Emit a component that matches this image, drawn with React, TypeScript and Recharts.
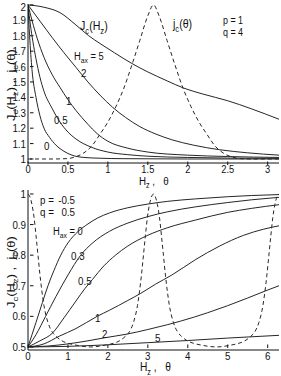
import React from "react";
import { LineChart, Line, XAxis, YAxis } from "recharts";

const FONT = "'Liberation Sans', Arial, Helvetica, sans-serif";
const SX = 0.85;
const INK = "#111";
const LINE = "#262626";

type P = [number, number][];

// ---------- top panel (p = 1, q = 4) ----------
const topXTicks = [0, 0.5, 1, 1.5, 2, 2.5, 3];
const topXTickLabels = ["0", "0.5", "1", "1.5", "2", "2.5", "3"];
const topYTicks = [1, 1.1, 1.2, 1.3, 1.4, 1.5, 1.6, 1.7, 1.8, 1.9, 2];
const topYTickLabels = ["1", "1.1", "1.2", "1.3", "1.4", "1.5", "1.6", "1.7", "1.8", "1.9", "2"];

const topHax0: P = [[0, 2], [0.02, 1.8], [0.05, 1.58], [0.1, 1.4], [0.15, 1.28], [0.2, 1.2], [0.27, 1.14], [0.35, 1.09], [0.45, 1.05], [0.55, 1.025], [0.7, 1.01], [0.9, 1.005], [1.2, 1.002], [2, 1.0], [3.1416, 1.0]];
const topHax05: P = [[0, 2], [0.03, 1.87], [0.062, 1.76], [0.1, 1.65], [0.15, 1.53], [0.2, 1.44], [0.3, 1.33], [0.4, 1.24], [0.5, 1.175], [0.6, 1.13], [0.8, 1.075], [1, 1.045], [1.25, 1.028], [1.5, 1.018], [2, 1.01], [2.5, 1.006], [3.1416, 1.004]];
const topHax1: P = [[0, 2], [0.05, 1.9], [0.117, 1.78], [0.2, 1.66], [0.3, 1.55], [0.4, 1.465], [0.5, 1.385], [0.6, 1.315], [0.75, 1.225], [0.864, 1.165], [1, 1.115], [1.25, 1.07], [1.5, 1.045], [2, 1.025], [2.5, 1.016], [3.1416, 1.01]];
const topHax2: P = [[0, 2], [0.15, 1.895], [0.3, 1.79], [0.45, 1.69], [0.6, 1.595], [0.75, 1.5], [0.9, 1.415], [1.06, 1.335], [1.22, 1.27], [1.4, 1.21], [1.6, 1.162], [1.8, 1.125], [2.07, 1.09], [2.4, 1.06], [2.75, 1.04], [3.1416, 1.025]];
const topHax5: P = [[0, 2], [0.2, 1.985], [0.4, 1.95], [0.6, 1.87], [0.76, 1.8], [0.9, 1.75], [1.08, 1.69], [1.3, 1.62], [1.5, 1.565], [1.75, 1.505], [1.95, 1.46], [2.2, 1.42], [2.5, 1.378], [2.8, 1.325], [3.1416, 1.258]];
const topJTheta: P = [[0, 1], [0.3, 1], [0.5, 1.003], [0.6, 1.015], [0.7, 1.04], [0.8, 1.085], [0.9, 1.16], [1.0, 1.24], [1.1, 1.34], [1.2, 1.46], [1.3, 1.61], [1.4, 1.77], [1.5, 1.93], [1.571, 2], [1.64, 1.93], [1.74, 1.77], [1.84, 1.61], [1.94, 1.46], [2.04, 1.34], [2.14, 1.24], [2.24, 1.16], [2.34, 1.085], [2.44, 1.04], [2.54, 1.015], [2.64, 1.003], [2.8, 1], [3.1416, 1]];

// ---------- bottom panel (p = -0.5, q = 0.5) ----------
const botXTicks = [0, 1, 2, 3, 4, 5, 6];
const botXTickLabels = ["0", "1", "2", "3", "4", "5", "6"];
const botYTicks = [0.5, 0.6, 0.7, 0.8, 0.9, 1];
const botYTickLabels = ["0.5", "0.6", "0.7", "0.8", "0.9", "1"];

const botHax0: P = [[0, 0.5], [0.1, 0.54], [0.2, 0.58], [0.36, 0.645], [0.5, 0.7], [0.65, 0.75], [0.82, 0.8], [1, 0.84], [1.25, 0.877], [1.5, 0.902], [1.75, 0.922], [2.04, 0.938], [2.5, 0.955], [3, 0.967], [3.5, 0.976], [4.2, 0.984], [5, 0.991], [5.6, 0.995], [6.2832, 0.998]];
const botHax03: P = [[0, 0.5], [0.2, 0.54], [0.44, 0.6], [0.7, 0.665], [1, 0.735], [1.32, 0.8], [1.6, 0.838], [2.04, 0.878], [2.5, 0.905], [3, 0.926], [3.5, 0.942], [4.2, 0.958], [5, 0.972], [5.6, 0.981], [6.2832, 0.989]];
const botHax05: P = [[0, 0.5], [0.3, 0.52], [0.61, 0.545], [0.9, 0.595], [1.2, 0.65], [1.42, 0.69], [1.61, 0.72], [1.9, 0.765], [2.19, 0.8], [2.5, 0.83], [3, 0.865], [3.5, 0.89], [4.2, 0.915], [5, 0.94], [5.6, 0.953], [6.2832, 0.965]];
const botHax1: P = [[0, 0.5], [0.4, 0.51], [0.78, 0.535], [1.2, 0.56], [1.73, 0.6], [2.04, 0.62], [2.5, 0.652], [2.82, 0.675], [3.19, 0.705], [3.6, 0.735], [4.2, 0.786], [4.8, 0.83], [5.4, 0.865], [5.9, 0.885], [6.2832, 0.896]];
const botHax2: P = [[0, 0.5], [0.5, 0.503], [1, 0.51], [1.5, 0.52], [1.92, 0.53], [2.48, 0.542], [3, 0.557], [3.5, 0.573], [4.17, 0.598], [4.5, 0.612], [5, 0.635], [5.5, 0.66], [5.96, 0.684], [6.2832, 0.7]];
const botHax5: P = [[0, 0.5], [1, 0.502], [2, 0.507], [3, 0.514], [4, 0.521], [5, 0.529], [6.2832, 0.538]];
const botJTheta: P = [[0, 1], [0.05, 0.99], [0.1, 0.965], [0.15, 0.925], [0.2, 0.865], [0.25, 0.8], [0.3, 0.735], [0.35, 0.68], [0.4, 0.635], [0.5, 0.58], [0.6, 0.55], [0.7, 0.535], [0.85, 0.52], [1.0, 0.512], [1.2, 0.506], [1.571, 0.5], [1.94, 0.506], [2.14, 0.512], [2.29, 0.52], [2.44, 0.535], [2.54, 0.55], [2.64, 0.58], [2.74, 0.635], [2.79, 0.68], [2.84, 0.735], [2.89, 0.8], [2.94, 0.865], [2.99, 0.925], [3.04, 0.965], [3.09, 0.99], [3.1416, 1], [3.19, 0.99], [3.24, 0.965], [3.29, 0.925], [3.34, 0.865], [3.39, 0.8], [3.44, 0.735], [3.49, 0.68], [3.54, 0.635], [3.64, 0.58], [3.74, 0.55], [3.84, 0.535], [3.99, 0.52], [4.14, 0.512], [4.34, 0.506], [4.712, 0.5], [5.08, 0.506], [5.28, 0.512], [5.43, 0.52], [5.58, 0.535], [5.68, 0.55], [5.78, 0.58], [5.88, 0.635], [5.93, 0.68], [5.98, 0.735], [6.03, 0.8], [6.08, 0.865], [6.13, 0.925], [6.18, 0.965], [6.23, 0.99], [6.2832, 1]];

const toXY = (a: P) => a.map(([x, y]) => ({ x, y }));

// ---------- ticks ----------
const TL = 3.5;
const tickText = (x: number, y: number, anchor: string, s: string, fs: number) => (
  <text transform={`translate(${x},${y}) scale(${SX},1)`} textAnchor={anchor as any} fontSize={fs} fontFamily={FONT} fill={INK}>{s}</text>
);
const leftTick = (M: number, ticks: number[], labels: string[]) => (props: any) => {
  const { x, y, payload } = props;
  const ax = x + M;
  const i = ticks.indexOf(payload.value);
  return (
    <g>
      <line x1={ax} y1={y} x2={ax + TL} y2={y} stroke={INK} strokeWidth={1} />
      {tickText(x, Math.max(y + 4.1, 10.6), "end", labels[i] ?? "", 11.5)}
    </g>
  );
};
const bottomTick = (M: number, ticks: number[], labels: string[], fs: number, off: number) => (props: any) => {
  const { x, y, payload } = props;
  const ay = y - M;
  const i = ticks.indexOf(payload.value);
  return (
    <g>
      <line x1={x} y1={ay} x2={x} y2={ay - TL} stroke={INK} strokeWidth={1} />
      {tickText(x, y + off, "middle", labels[i] ?? "", fs)}
    </g>
  );
};
const topTick = (props: any) => {
  const { x, y } = props;
  return <line x1={x} y1={y} x2={x} y2={y + TL} stroke={INK} strokeWidth={1} />;
};
const rightTick = (props: any) => {
  const { x, y } = props;
  return <line x1={x} y1={y} x2={x - TL} y2={y} stroke={INK} strokeWidth={1} />;
};

// ---------- text ----------
type Part = [string, boolean];
function Rich({ parts, size, anchor = "start" }: { parts: Part[]; size: number; anchor?: string }) {
  const d = size * 0.3;
  return (
    <text fontFamily={FONT} fontSize={size} fill={INK} textAnchor={anchor as any} style={{ whiteSpace: "pre" }}>
      {parts.map(([t, sub], i) => {
        const prevSub = i > 0 && parts[i - 1][1];
        const dy = sub && !prevSub ? d : !sub && prevSub ? -d : 0;
        return (
          <tspan key={i} dy={dy} fontSize={sub ? size * 0.72 : size}>{t}</tspan>
        );
      })}
    </text>
  );
}
function Lbl({ x, y, parts, size = 11.5, anchor = "start" }: { x: number; y: number; parts: Part[]; size?: number; anchor?: string }) {
  return (
    <g transform={`translate(${x},${y}) scale(${SX},1)`}>
      <Rich parts={parts} size={size} anchor={anchor} />
    </g>
  );
}
function VLbl({ x, y, parts, size = 13 }: { x: number; y: number; parts: Part[]; size?: number }) {
  return (
    <g transform={`translate(${x},${y}) scale(${SX},1) rotate(-90)`}>
      <Rich parts={parts} size={size} anchor="middle" />
    </g>
  );
}

const yLabelParts: Part[] = [["J", false], ["c", true], ["(H", false], ["z", true], [") ,  j", false], ["c", true], ["(θ)", false]];
const xLabelParts: Part[] = [["H", false], ["z", true], [" ,   θ", false]];

const solid = (key: string, data: P) => (
  <Line key={key} data={toXY(data)} dataKey="y" type="monotone" stroke={LINE} strokeWidth={1} dot={false} activeDot={false} isAnimationActive={false} />
);
const dashed = (key: string, data: P) => (
  <Line key={key} data={toXY(data)} dataKey="y" type="monotone" stroke={LINE} strokeWidth={1} strokeDasharray="4 3" dot={false} activeDot={false} isAnimationActive={false} />
);

export default function App() {
  return (
    <div style={{ position: "absolute", left: 0, top: 0, width: 281, height: 376, background: "#fff", overflow: "hidden" }}>
      <div style={{ position: "absolute", left: 0, top: 0 }}>
        <LineChart width={281} height={185} margin={{ top: 4, right: 2, bottom: 2, left: 0 }}>
          <XAxis dataKey="x" type="number" domain={[0, Math.PI]} allowDataOverflow ticks={topXTicks} interval={0} height={20} tickSize={0} tickLine={false} axisLine={{ stroke: INK }} tick={bottomTick(0, topXTicks, topXTickLabels, 11, 7.8)} />
          <XAxis xAxisId="t" orientation="top" dataKey="x" type="number" domain={[0, Math.PI]} allowDataOverflow ticks={topXTicks} interval={0} height={0} tickSize={0} tickLine={false} axisLine={{ stroke: INK }} tick={topTick} />
          <YAxis type="number" domain={[0.974, 2.006]} allowDataOverflow ticks={topYTicks} interval={0} width={28} tickSize={0} tickLine={false} axisLine={{ stroke: INK }} tick={leftTick(4, topYTicks, topYTickLabels)} />
          <YAxis yAxisId="r" orientation="right" type="number" domain={[0.974, 2.006]} allowDataOverflow ticks={topYTicks} interval={0} width={0} tickSize={0} tickLine={false} axisLine={{ stroke: INK }} tick={rightTick} />
          {solid("h0", topHax0)}
          {solid("h05", topHax05)}
          {solid("h1", topHax1)}
          {solid("h2", topHax2)}
          {solid("h5", topHax5)}
          {dashed("jt", topJTheta)}
        </LineChart>
      </div>
      <div style={{ position: "absolute", left: 0, top: 185 }}>
        <LineChart width={281} height={191} margin={{ top: 5, right: 2, bottom: 6, left: 0 }}>
          <XAxis dataKey="x" type="number" domain={[0, 2 * Math.PI]} allowDataOverflow ticks={botXTicks} interval={0} height={20} tickSize={0} tickLine={false} axisLine={{ stroke: INK }} tick={bottomTick(4, botXTicks, botXTickLabels, 11.5, 8.2)} />
          <XAxis xAxisId="t" orientation="top" dataKey="x" type="number" domain={[0, 2 * Math.PI]} allowDataOverflow ticks={botXTicks} interval={0} height={0} tickSize={0} tickLine={false} axisLine={{ stroke: INK }} tick={topTick} />
          <YAxis type="number" domain={[0.49, 1.013]} allowDataOverflow ticks={botYTicks} interval={0} width={28} tickSize={0} tickLine={false} axisLine={{ stroke: INK }} tick={leftTick(4, botYTicks, botYTickLabels)} />
          <YAxis yAxisId="r" orientation="right" type="number" domain={[0.49, 1.013]} allowDataOverflow ticks={botYTicks} interval={0} width={0} tickSize={0} tickLine={false} axisLine={{ stroke: "#8a8a8a", strokeWidth: 3 }} tick={rightTick} />
          {solid("b0", botHax0)}
          {solid("b03", botHax03)}
          {solid("b05", botHax05)}
          {solid("b1", botHax1)}
          {solid("b2", botHax2)}
          {solid("b5", botHax5)}
          {dashed("bjt", botJTheta)}
        </LineChart>
      </div>
      <svg width={281} height={376} style={{ position: "absolute", left: 0, top: 0, pointerEvents: "none" }}>
        {/* top panel annotations */}
        <Lbl x={80} y={30} size={12.5} parts={[["J", false], ["c", true], ["(H", false], ["z", true], [")", false]]} />
        <Lbl x={173} y={28} size={12.5} parts={[["j", false], ["c", true], ["(θ)", false]]} />
        <Lbl x={223} y={24} size={10.5} parts={[["p = 1", false]]} />
        <Lbl x={223} y={36} size={10.5} parts={[["q = 4", false]]} />
        <Lbl x={74} y={60} size={11} parts={[["H", false], ["ax", true], [" = 5", false]]} />
        <Lbl x={81} y={77} parts={[["2", false]]} />
        <Lbl x={66} y={105} parts={[["1", false]]} />
        <Lbl x={54} y={124} parts={[["0.5", false]]} />
        <Lbl x={44} y={150} parts={[["0", false]]} />
        <Lbl x={139} y={184.5} size={11.5} parts={xLabelParts} />
        <VLbl x={15} y={85} parts={yLabelParts} />
        {/* bottom panel annotations */}
        <Lbl x={40} y={204} parts={[["p =", false]]} />
        <Lbl x={75} y={204} anchor="end" parts={[["-0.5", false]]} />
        <Lbl x={40} y={216} parts={[["q =", false]]} />
        <Lbl x={75} y={216} anchor="end" parts={[["0.5", false]]} />
        <Lbl x={53} y={235} size={11} parts={[["H", false], ["ax", true], [" = 0", false]]} />
        <Lbl x={71} y={260} parts={[["0.3", false]]} />
        <Lbl x={78} y={285} parts={[["0.5", false]]} />
        <Lbl x={95} y={322} parts={[["1", false]]} />
        <Lbl x={102} y={338} parts={[["2", false]]} />
        <Lbl x={155} y={342} parts={[["5", false]]} />
        <Lbl x={140} y={371} size={12} parts={xLabelParts} />
        <VLbl x={15} y={272} parts={yLabelParts} />
      </svg>
    </div>
  );
}
